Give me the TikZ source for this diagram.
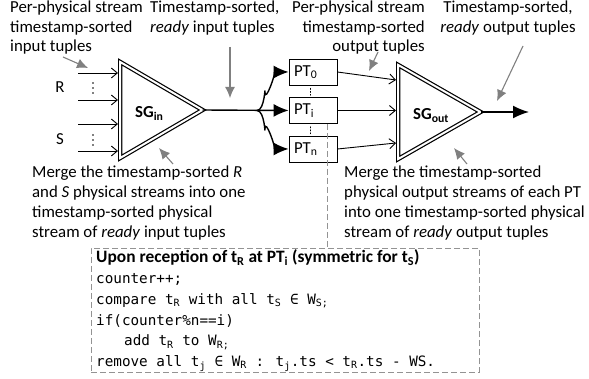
\documentclass[tikz,border=0pt]{standalone}
\usepackage{fontspec}
\setmainfont{Carlito}
\newfontfamily\codefont{DejaVu Sans Mono}
\usetikzlibrary{arrows.meta,calc}
\begin{document}
\begin{tikzpicture}[x=1pt,y=-1pt,
  txt/.style={inner sep=0pt, font=\fontsize{16.8}{19.5}\selectfont},
  btxt/.style={inner sep=0pt, font=\fontsize{16.8}{20}\selectfont},
  ptbox/.style={draw, line width=0.9pt, minimum width=48pt, minimum height=26pt, inner ysep=0pt, inner xsep=5pt, text width=38pt, align=left, font=\fontsize{16.8}{19.5}\selectfont},
  sg/.style={draw, double, line width=1.2pt, double distance=2pt, line join=miter},
  inarr/.style={line width=0.9pt, -{Straight Barb[length=6pt,width=10pt]}},
  bigarr/.style={line width=1.4pt, -{Latex[length=15pt,width=13pt]}},
  outarr/.style={line width=1.6pt, -{Latex[length=16pt,width=13pt]}},
  note/.style={draw=gray, line width=1.1pt, -{Latex[length=11pt,width=10pt]}},
  dashgray/.style={draw=gray!85, line width=0.8pt, dash pattern=on 6pt off 3pt},
  dotsline/.style={line width=1pt, dash pattern=on 1pt off 2pt, line cap=round},
]
\useasboundingbox (0,0) rectangle (589,379);

% ---------- SG_in ----------
\draw[sg] (120.2,62) -- (202.5,110) coordinate (inApex) -- (120.2,158) -- cycle;
\node[btxt, anchor=base west, font=\fontsize{16.8}{20}\selectfont\bfseries] (sgin) at (135,118) {SG\textsubscript{in}};

% inputs
\coordinate (r1s) at (78,73);  \coordinate (r1e) at (118,73);
\coordinate (r2s) at (78,100); \coordinate (r2e) at (118,100);
\coordinate (s1s) at (78,124); \coordinate (s1e) at (118,124);
\coordinate (s2s) at (78,151); \coordinate (s2e) at (118,151);
\draw[inarr] (r1s) -- (r1e);
\draw[inarr] (r2s) -- (r2e);
\draw[inarr] (s1s) -- (s1e);
\draw[inarr] (s2s) -- (s2e);
\node[txt, anchor=base] (Rl) at (60,93) {R};
\node[txt, anchor=base] (Sl) at (60,145) {S};
\foreach \yy in {83,88,93,135,140,145} \fill (93,\yy) circle (0.9);

% ---------- PT boxes ----------
\node[ptbox] (PT0) at (313,72) {PT\textsubscript{0}};
\node[ptbox] (PTi) at (313,110.5) {PT\textsubscript{i}};
\node[ptbox] (PTn) at (313,149) {PT\textsubscript{n}};
\draw[dotsline] ($(PT0.south)+(-3,3)$) -- ($(PTi.north)+(-3,-2)$);
\draw[dotsline] ($(PTi.south)+(-3,3)$) -- ($(PTn.north)+(-3,-2)$);

% fork
\coordinate (F) at (257,110.5);
\draw[bigarr] (inApex) -- (PTi.west);
\draw[bigarr] (F) to[out=0,in=90] (265,92) to[out=-90,in=180] (PT0.west);
\draw[bigarr] (F) to[out=0,in=-90] (265,129) to[out=90,in=180] (PTn.west);

% ---------- SG_out ----------
\draw[sg] (398.2,65) -- (480.5,112) coordinate (outApex) -- (398.2,159) -- cycle;
\node[btxt, anchor=base west, font=\fontsize{16.8}{20}\selectfont\bfseries] (sgout) at (413,120) {SG\textsubscript{out}};
\coordinate (o0) at (396,80);
\coordinate (oi) at (396,110.5);
\coordinate (on) at (396,143);
\draw[inarr] (PT0.east) -- (o0);
\draw[inarr] (PTi.east) -- (oi);
\draw[inarr] (PTn.east) -- (on);
\coordinate (outEnd) at (529,112);
\draw[outarr] (outApex) -- (outEnd);

% ---------- texts ----------
\node[txt, anchor=base west] (t1) at (10,13) {\begin{tabular}[t]{@{}l@{}}Per-physical stream\\timestamp-sorted\\input tuples\end{tabular}};
\node[txt, anchor=base west] (t2) at (150,13) {\begin{tabular}[t]{@{}l@{}}Timestamp-sorted,\\\textit{ready} input tuples\end{tabular}};
\node[txt, anchor=base east] (t3) at (425,13) {\begin{tabular}[t]{@{}r@{}}Per-physical stream\\timestamp-sorted\\output tuples\end{tabular}};
\node[txt, anchor=base] (t4) at (508,13) {\begin{tabular}[t]{@{}c@{}}Timestamp-sorted,\\\textit{ready} output tuples\end{tabular}};
\node[btxt, anchor=base west] (t5) at (32,178) {\begin{tabular}[t]{@{}l@{}}Merge the timestamp-sorted \textit{R}\\and \textit{S} physical streams into one\\timestamp-sorted physical\\stream of \textit{ready} input tuples\end{tabular}};
\node[btxt, anchor=base west] (t6) at (344,178) {\begin{tabular}[t]{@{}l@{}}Merge the timestamp-sorted\\physical output streams of each PT\\into one timestamp-sorted physical\\stream of \textit{ready} output tuples\end{tabular}};

% ---------- annotation arrows ----------
\coordinate (a1s) at (63,57);   \coordinate (a1e) at (88,68);
\coordinate (a2s) at (230,47);  \coordinate (a2e) at (230,98);
\coordinate (a3s) at (378,52);  \coordinate (a3e) at (369,71);
\coordinate (a4s) at (523,46);  \coordinate (a4e) at (497,101);
\coordinate (a5s) at (173,164); \coordinate (a5e) at (159,148);
\coordinate (a6s) at (467,164); \coordinate (a6e) at (454,148);
\draw[note] (a1s) -- (a1e);
\draw[note] (a2s) -- (a2e);
\draw[note] (a3s) -- (a3e);
\draw[note] (a4s) -- (a4e);
\draw[note] (a5s) -- (a5e);
\draw[note] (a6s) -- (a6e);

% ---------- code box ----------
\node[dashgray, minimum width=388pt, minimum height=124pt, inner sep=0pt] (code) at (285,310) {};
\draw[dashgray] ($(PTi.south east)+(-10,0)$) coordinate (d1) -- (d1 |- code.north);
\node[inner sep=0pt, anchor=base west, font=\codefont\fontsize{14.3}{20.7}\selectfont] (codetxt) at (96,263) {\begin{tabular}[t]{@{}l@{}}
{\rmfamily\bfseries\fontsize{17.4}{20.7}\selectfont Upon reception of t\textsubscript{R} at PT\textsubscript{i} (symmetric for t\textsubscript{S})}\\
counter++;\\
compare t\textsubscript{R} with all t\textsubscript{S} ∈ W\textsubscript{S;}\\
if(counter\%n==i)\\
\hspace*{28pt}add t\textsubscript{R} to W\textsubscript{R;}\\
remove all t\textsubscript{j} ∈ W\textsubscript{R} : t\textsubscript{j}.ts < t\textsubscript{R}.ts - WS.
\end{tabular}};
\end{tikzpicture}
\end{document}
